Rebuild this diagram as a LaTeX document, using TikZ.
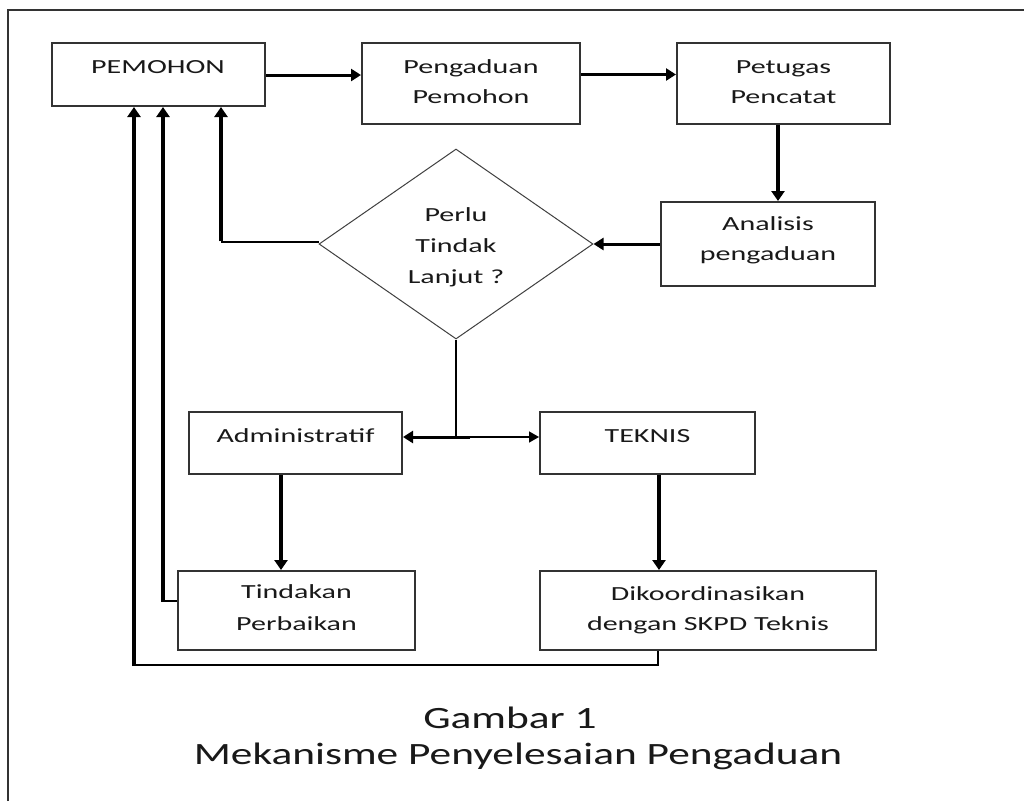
\documentclass[tikz,border=0pt]{standalone}
\usepackage{fontspec}
\newfontfamily\boxfont{Carlito}[FakeStretch=1.5]
\newfontfamily\capfont{Carlito}[FakeStretch=1.4]
\usetikzlibrary{arrows.meta,shapes.geometric}
\begin{document}
\begin{tikzpicture}[x=1pt,y=-1pt,
  box/.style={draw=black!80, line width=2pt, rectangle, inner sep=0pt},
  dia/.style={draw=black!75, line width=1pt, diamond, inner sep=0pt},
  txt/.style={anchor=base, inner sep=0pt, font=\boxfont\fontsize{20}{24}\selectfont, text=black!90},
  captxt/.style={anchor=base, inner sep=0pt, font=\capfont\fontsize{31}{36}\selectfont, text=black!90},
  heavy/.style={line width=4pt, -{Triangle[width=13pt,length=10pt]}},
  medarrow/.style={line width=3pt, -{Triangle[width=12pt,length=10pt]}},
  thinarrow/.style={line width=1.5pt, -{Triangle[width=11pt,length=10pt]}},
  thinl/.style={line width=1.5pt},
  medl/.style={line width=2pt, line join=miter}
]
\useasboundingbox (0,0) rectangle (1024,801);
\fill[white] (0,0) rectangle (1024,801);
% frame
\draw[line width=2pt, draw=black!80] (8,801) -- (8,10) -- (1024,10);

% boxes
\node[box, minimum width=213pt, minimum height=63pt] (pem) at (158.5,74.5) {};
\node[txt] (tpem) at (158,73) {PEMOHON};

\node[box, minimum width=218pt, minimum height=81pt] (peng) at (471,83.5) {};
\node[txt] (tpeng1) at (471,73) {Pengaduan};
\node[txt] (tpeng2) at (471,103) {Pemohon};

\node[box, minimum width=213pt, minimum height=81pt] (pet) at (783.5,83.5) {};
\node[txt] (tpet1) at (783.5,73) {Petugas};
\node[txt] (tpet2) at (783.5,103) {Pencatat};

\node[box, minimum width=214pt, minimum height=84pt] (ana) at (768,244) {};
\node[txt] (tana1) at (768,230) {Analisis};
\node[txt] (tana2) at (768,260) {pengaduan};

\node[dia, minimum width=274pt, minimum height=190pt] (dia) at (456,244) {};
\node[txt] (tdia1) at (456,221) {Perlu};
\node[txt] (tdia2) at (456,252) {Tindak};
\node[txt] (tdia3) at (456,283) {Lanjut ?};

\node[box, minimum width=213pt, minimum height=62pt] (adm) at (295.5,443) {};
\node[txt] (tadm) at (295.5,442) {Administratif};

\node[box, minimum width=215pt, minimum height=62pt] (tek) at (647.5,443) {};
\node[txt] (ttek) at (647.5,442) {TEKNIS};

\node[box, minimum width=237pt, minimum height=79pt] (tin) at (296.5,610.5) {};
\node[txt] (ttin1) at (296.5,598) {Tindakan};
\node[txt] (ttin2) at (296.5,630) {Perbaikan};

\node[box, minimum width=336pt, minimum height=79pt] (dik) at (708,610.5) {};
\node[txt] (tdik1) at (708,600) {Dikoordinasikan};
\node[txt] (tdik2) at (708,630) {dengan SKPD Teknis};

% caption
\node[captxt] (cap1) at (510,728) {Gambar 1};
\node[captxt] (cap2) at (518,764) {Mekanisme Penyelesaian Pengaduan};

% helper coordinates
\coordinate (k1) at (221,242);
\coordinate (k2) at (456,437);
\coordinate (k3) at (163,601);
\coordinate (k4) at (134,665);

% connectors
\draw[medarrow] ([yshift=-0.5pt]pem.east) -- ([yshift=-0.5pt]pem.east -| peng.west);
\draw[medarrow] (peng.east |- pem.east) -- (pet.west |- pem.east);
\draw[heavy] ([xshift=-5.5pt]pet.south) -- ([xshift=-5.5pt]pet.south |- ana.north);
\draw[medarrow] (ana.west) -- (dia.east);

\draw[thinl] (dia.west |- k1) -- (k1);
\draw[heavy] ([yshift=0.75pt]k1) -- (k1 |- pem.south);

\draw[thinl] (dia.south) -- (k2);
\draw[medarrow] ([xshift=14pt]k2) -- (adm.east |- k2);
\draw[thinarrow] (k2) -- (tek.west |- k2);

\draw[heavy] ([xshift=-14.5pt]adm.south) -- ([xshift=-14.5pt]adm.south |- tin.north);
\draw[heavy] ([xshift=11.5pt]tek.south) -- ([xshift=11.5pt]tek.south |- dik.north);

\draw[thinl] ([yshift=9.5pt]tin.west) -- (k3);
\draw[heavy] ([yshift=-0.75pt]k3) -- (k3 |- pem.south);

\draw[medl] ([xshift=-50pt]dik.south) |- (k4);
\draw[heavy] ([yshift=-1pt]k4) -- (k4 |- pem.south);
\end{tikzpicture}
\end{document}
